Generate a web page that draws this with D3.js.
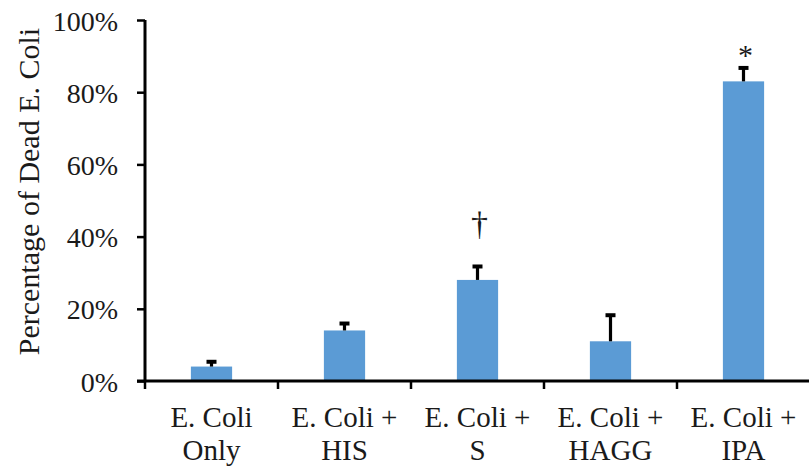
<!DOCTYPE html>
<html>
<head>
<meta charset="utf-8">
<script src="https://cdn.jsdelivr.net/npm/d3@7/dist/d3.min.js"></script>
<style>
  html, body { margin: 0; padding: 0; background: #fff; }
  svg { display: block; }
</style>
</head>
<body>
<svg id="chart" width="809" height="468" font-family="Liberation Serif, serif"></svg>
<script>
// Percentage of dead E. coli per treatment, with upper error bars
const categories = ["E. Coli Only", "E. Coli + HIS", "E. Coli + S", "E. Coli + HAGG", "E. Coli + IPA"];
const labelLines = [["E. Coli", "Only"], ["E. Coli +", "HIS"], ["E. Coli +", "S"], ["E. Coli +", "HAGG"], ["E. Coli +", "IPA"]];
const values = [4, 14, 28, 11, 83];
const errors = [1.6, 2.2, 4, 7.5, 4];
const markers = ["", "", "\u2020", "", "*"];
const yTicks = [0, 20, 40, 60, 80, 100];

const SERIF = '"Liberation Serif", "Times New Roman", serif';
const INK = "#1a1a1a";

const svg = d3.select("#chart");
const margin = { left: 145, right: 0, top: 20, bottom: 87 };
const W = 809, H = 468;

const x = d3.scaleBand()
  .domain(categories)
  .range([margin.left, W + 1])
  .paddingInner(0.69)
  .paddingOuter(0.345);

const y = d3.scaleLinear()
  .domain([0, 100])
  .range([H - margin.bottom, margin.top]);

// Bars
svg.append("g").selectAll("rect")
  .data(categories)
  .join("rect")
  .attr("x", d => x(d))
  .attr("y", (d, i) => y(values[i]))
  .attr("width", x.bandwidth())
  .attr("height", (d, i) => y(0) - y(values[i]))
  .attr("fill", "#5B9BD5");

// Upper error bars
const err = svg.append("g").attr("stroke", "#000").attr("stroke-width", 3.2);
categories.forEach((c, i) => {
  const cx = x(c) + x.bandwidth() / 2;
  err.append("line")
    .attr("x1", cx).attr("x2", cx)
    .attr("y1", y(values[i])).attr("y2", y(values[i] + errors[i]));
  err.append("line")
    .attr("x1", cx - 5).attr("x2", cx + 5)
    .attr("y1", y(values[i] + errors[i]) + 1).attr("y2", y(values[i] + errors[i]) + 1)
    .attr("stroke-width", 4);
});

// Significance markers above the error bars
const markerLift = { "\u2020": 30, "*": 2 };
svg.append("g").selectAll("text")
  .data(categories)
  .join("text")
  .attr("x", d => x(d) + x.bandwidth() / 2 + 2)
  .attr("y", (d, i) => y(values[i] + errors[i]) - (markerLift[markers[i]] || 0))
  .attr("text-anchor", "middle")
  .style("font-family", SERIF)
  .style("font-size", (d, i) => markers[i] === "*" ? "30px" : "34px")
  .style("fill", INK)
  .text((d, i) => markers[i]);

// Y axis
const yAxis = svg.append("g")
  .attr("transform", `translate(${margin.left},0)`)
  .call(d3.axisLeft(y).tickValues(yTicks).tickFormat(d => d + "%").tickSize(8).tickPadding(19));
yAxis.attr("font-family", SERIF);
yAxis.select(".domain").attr("stroke", "#000").attr("stroke-width", 3).attr("d", `M0,${y(0)}V${y(100)}`);
yAxis.selectAll(".tick line").attr("stroke", "#000").attr("stroke-width", 2.5);
yAxis.selectAll(".tick text")
  .style("font-family", SERIF)
  .style("font-size", "28px")
  .style("fill", INK)
  .attr("dy", "0.36em");

// X axis with boundary ticks between categories
const xAxisG = svg.append("g").attr("transform", `translate(0,${y(0)})`);
xAxisG.append("line")
  .attr("x1", margin.left - 8).attr("x2", W)
  .attr("stroke", "#000").attr("stroke-width", 3);
const step = x.step();
d3.range(categories.length).forEach(i => {
  const bx = x(categories[i]) - x.paddingOuter() * step;
  xAxisG.append("line")
    .attr("x1", bx).attr("x2", bx)
    .attr("y1", 0).attr("y2", 8)
    .attr("stroke", "#000").attr("stroke-width", 2.5);
});
xAxisG.selectAll("text.cat")
  .data(categories)
  .join("text")
  .attr("class", "cat")
  .attr("text-anchor", "middle")
  .style("font-family", SERIF)
  .style("font-size", "29px")
  .style("fill", INK)
  .each(function (d, i) {
    d3.select(this).selectAll("tspan")
      .data(labelLines[i])
      .join("tspan")
      .attr("x", x(d) + x.bandwidth() / 2)
      .attr("y", (l, j) => 46 + j * 33)
      .text(l => l);
  });

// Y axis title
svg.append("text")
  .attr("transform", `translate(39,${(y(0) + y(100)) / 2 - 9}) rotate(-90)`)
  .attr("text-anchor", "middle")
  .style("font-family", SERIF)
  .style("font-size", "30px")
  .style("fill", INK)
  .text("Percentage of Dead E. Coli");
</script>
</body>
</html>
